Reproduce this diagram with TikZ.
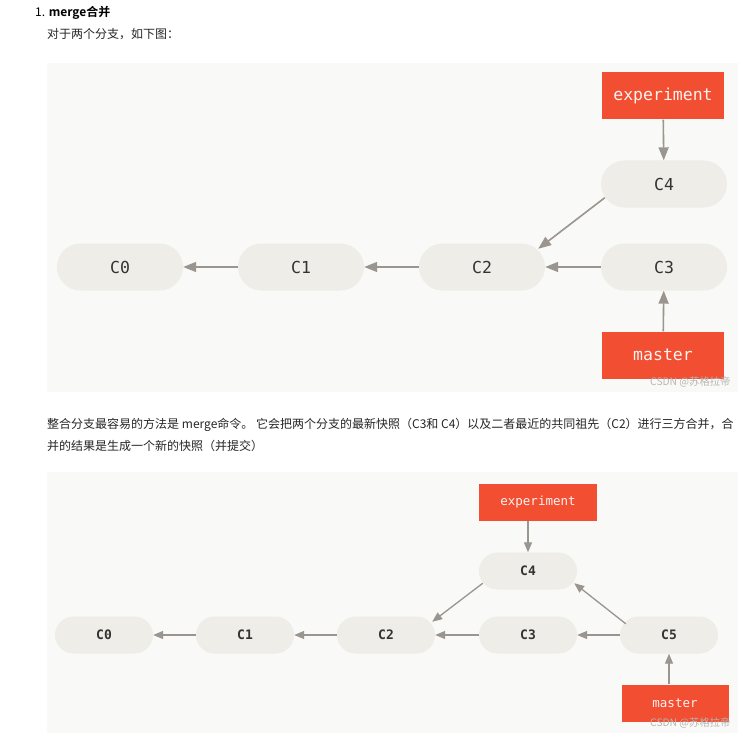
\documentclass[tikz,border=0pt]{standalone}
\usepackage{fontspec}
\newfontfamily\cjk{Noto Sans CJK SC}
\newfontfamily\cjkb{Noto Sans CJK SC Bold}
\newfontfamily\mono{DejaVu Sans Mono}
\usetikzlibrary{arrows.meta}
\definecolor{gitred}{HTML}{F14E32}
\definecolor{pill}{HTML}{EEEDE7}
\definecolor{panel}{HTML}{F9F9F7}
\definecolor{arr}{HTML}{9A958E}
\definecolor{txt}{HTML}{333333}
\definecolor{wm}{HTML}{B5B5B5}
\tikzset{
  commitA/.style={rounded corners=23.5pt, fill=pill, minimum width=126pt, minimum height=47pt, inner sep=0pt, font=\mono\fontsize{16.5}{18}\selectfont, text=txt},
  commitB/.style={rounded corners=18.5pt, fill=pill, minimum width=98pt, minimum height=37pt, inner sep=0pt, font=\mono\bfseries\fontsize{13}{15}\selectfont, text=txt},
  refA/.style={fill=gitred, minimum width=122pt, minimum height=47pt, inner sep=0pt, font=\mono\fontsize{16.5}{18}\selectfont, text=white!93!gitred},
  refB/.style={fill=gitred, minimum height=37pt, inner sep=0pt, font=\mono\fontsize{12.5}{14}\selectfont, text=white!93!gitred},
  conn/.style={draw=arr, line width=1.6pt, -{Triangle[length=13pt,width=10pt]}},
  connB/.style={draw=arr, line width=1.3pt, -{Triangle[length=10pt,width=8pt]}},
  para/.style={anchor=west, inner sep=0pt, font=\cjk\fontsize{12}{14}\selectfont, text=black!85},
  wmark/.style={anchor=west, inner sep=0pt, font=\cjk\fontsize{10.3}{12}\selectfont, text=wm},
}
\begin{document}
\begin{tikzpicture}[x=1pt,y=-1pt]
\useasboundingbox[fill=white] (0,0) rectangle (755,741);
% headings
\node[para, text=black] (h1) at (35,13) {1. {\cjkb merge合并}};
\node[para] (t1) at (47,34) {对于两个分支，如下图：};
% panel 1
\fill[panel] (47,63) rectangle (738,392);
\node[commitA] (a0) at (120,267) {C0};
\node[commitA] (a1) at (301,267) {C1};
\node[commitA] (a2) at (482,267) {C2};
\node[commitA] (a3) at (664,267) {C3};
\node[commitA] (a4) at (664,184) {C4};
\node[refA] (aexp) at (663,96) {experiment};
\node[refA] (amas) at (663,355) {master};
\draw[conn] (a1) -- (a0);
\draw[conn] (a2) -- (a1);
\draw[conn] (a3) -- (a2);
\draw[conn] (aexp) -- (a4);
\draw[conn] (amas) -- (a3);
\draw[conn] ([shift={(4,-10)}]a4.south west) -- ([shift={(-7,5.5)}]a2.north east);
\node[wmark] (w1) at (650,382) {CSDN @苏格拉帝};
% paragraph
\node[para] (p1) at (47,425) {整合分支最容易的方法是 merge命令。 它会把两个分支的最新快照（C3和 C4）以及二者最近的共同祖先（C2）进行三方合并，合};
\node[para] (p2) at (47,446) {并的结果是生成一个新的快照（并提交）};
% panel 2
\fill[panel] (47,472) rectangle (738,733);
\node[commitB] (b0) at (104,635) {C0};
\node[commitB] (b1) at (245,635) {C1};
\node[commitB] (b2) at (386,635) {C2};
\node[commitB] (b3) at (528,635) {C3};
\node[commitB] (b5) at (669,635) {C5};
\node[commitB] (b4) at (528,571) {C4};
\node[refB, minimum width=118pt] (bexp) at (538,502) {experiment};
\node[refB, minimum width=107pt] (bmas) at (675,703) {master};
\draw[connB] (b1) -- (b0);
\draw[connB] (b2) -- (b1);
\draw[connB] (b3) -- (b2);
\draw[connB] (b5) -- (b3);
\draw[connB] (bexp.south -| b4) -- (b4);
\draw[connB] (bmas.north -| b5) -- (b5);
\draw[connB] ([shift={(6,7.5)}]b5.north west) -- ([shift={(-3,-6.5)}]b4.south east);
\draw[connB] ([shift={(4,-6.5)}]b4.south west) -- ([shift={(-3,5.5)}]b2.north east);
\node[wmark] (w2) at (650,723) {CSDN @苏格拉帝};
\end{tikzpicture}
\end{document}
